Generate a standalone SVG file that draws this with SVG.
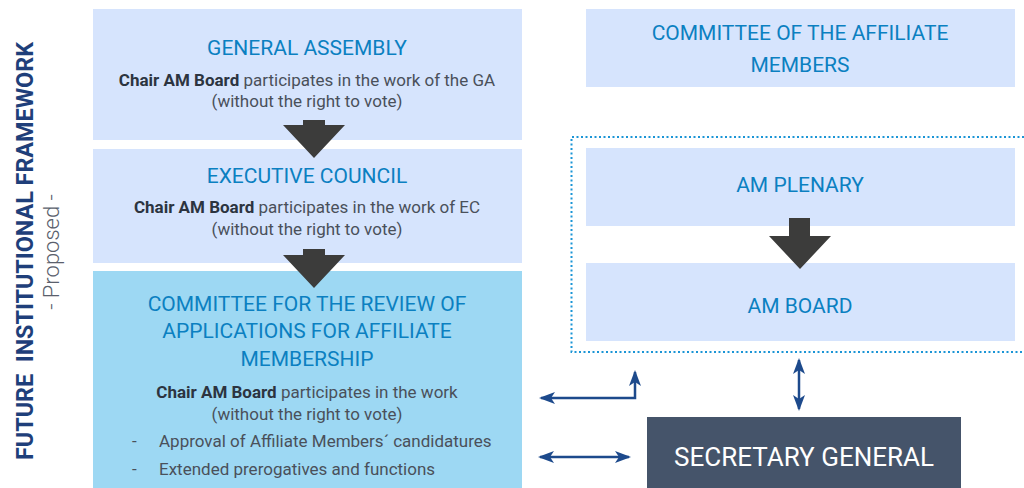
<svg xmlns="http://www.w3.org/2000/svg" width="1024" height="488" viewBox="0 0 1024 488">
<defs>
<style>
.box{fill:#d6e4fd}
.box2{fill:#9dd8f3}
.t{font-family:Roboto,"Liberation Sans",sans-serif;font-size:21px;fill:#0b80c1;text-anchor:middle}
.b{font-family:Roboto,"Liberation Sans",sans-serif;font-size:17px;fill:#4a505a;text-anchor:middle}
.b tspan.k{font-weight:bold;fill:#2c3440}
.l{font-family:Roboto,"Liberation Sans",sans-serif;font-size:17px;fill:#4a505a}
.da{fill:#3c3c3b}
.c{stroke:#1d4a8c;stroke-width:2.5;fill:none}
</style>
<marker id="ah" viewBox="0 0 16 12" refX="14" refY="6" markerWidth="16" markerHeight="12" markerUnits="userSpaceOnUse" orient="auto-start-reverse">
<path d="M0,0 L16,6 L0,12 L4,6 Z" fill="#1d4a8c"/>
</marker>
</defs>
<rect width="1024" height="488" fill="#ffffff"/>

<g id="title">
<text transform="translate(33,251) rotate(-90)" text-anchor="middle" font-family="Roboto,'Liberation Sans',sans-serif" font-weight="bold" font-size="24" fill="#1f3f7a" textLength="418" lengthAdjust="spacingAndGlyphs">FUTURE&#160;&#160;INSTITUTIONAL FRAMEWORK</text>
<text transform="translate(59,252) rotate(-90)" text-anchor="middle" font-family="Roboto,'Liberation Sans',sans-serif" font-weight="300" font-size="22" fill="#5a606c">- Proposed -</text>
</g>

<g id="general-assembly">
<rect class="box" x="93" y="9" width="429" height="131"/>
<text class="t" x="307" y="55">GENERAL ASSEMBLY</text>
<text class="b" x="307" y="86"><tspan class="k">Chair AM Board</tspan> participates in the work of the GA</text>
<text class="b" x="307" y="107">(without the right to vote)</text>
</g>

<g id="executive-council">
<rect class="box" x="93" y="149" width="429" height="114"/>
<text class="t" x="307" y="183">EXECUTIVE COUNCIL</text>
<text class="b" x="307" y="213"><tspan class="k">Chair AM Board</tspan> participates in the work of EC</text>
<text class="b" x="307" y="235">(without the right to vote)</text>
</g>

<g id="committee-review">
<rect class="box2" x="93" y="271" width="429" height="217"/>
<text class="t" x="307" y="311">COMMITTEE FOR THE REVIEW OF</text>
<text class="t" x="307" y="338">APPLICATIONS FOR AFFILIATE</text>
<text class="t" x="307" y="366">MEMBERSHIP</text>
<text class="b" x="307" y="398"><tspan class="k">Chair AM Board</tspan> participates in the work</text>
<text class="b" x="307" y="420">(without the right to vote)</text>
<text class="l" x="132" y="447">-</text>
<text class="l" x="159" y="447">Approval of Affiliate Members´ candidatures</text>
<text class="l" x="132" y="475">-</text>
<text class="l" x="159" y="475">Extended prerogatives and functions</text>
</g>

<g id="committee-affiliate">
<rect class="box" x="586" y="9" width="429" height="78"/>
<text class="t" x="800" y="40">COMMITTEE OF THE AFFILIATE</text>
<text class="t" x="800" y="72">MEMBERS</text>
</g>

<g id="am-group">
<path d="M1024,137 H571.5 V352 H1024" fill="none" stroke="#1b95d6" stroke-width="2" stroke-dasharray="2,2.5"/>
</g>

<g id="am-plenary">
<rect class="box" x="586" y="148" width="429" height="78"/>
<text class="t" x="800" y="192">AM PLENARY</text>
</g>

<g id="am-board">
<rect class="box" x="586" y="263" width="429" height="78"/>
<text class="t" x="800" y="313">AM BOARD</text>
</g>

<g id="secretary-general">
<rect x="647" y="417" width="314" height="71" fill="#45546a"/>
<text x="804" y="466" text-anchor="middle" font-family="Roboto,'Liberation Sans',sans-serif" font-size="26" fill="#ffffff">SECRETARY GENERAL</text>
</g>

<g id="connectors">
<path class="da" d="M303,120 H325 V125 H345 L314,158 L283,125 H303 Z"/>
<path class="da" d="M303,249 H325 V255 H345 L314,288 L283,255 H303 Z"/>
<path class="da" d="M789,218 H810 V236 H831 L800,269 L769,236 H789 Z"/>
<path class="c" d="M541,398 H635 V372" marker-start="url(#ah)" marker-end="url(#ah)"/>
<path class="c" d="M540,457 H629" marker-start="url(#ah)" marker-end="url(#ah)"/>
<path class="c" d="M799,360 V409" marker-start="url(#ah)" marker-end="url(#ah)"/>
</g>
</svg>
